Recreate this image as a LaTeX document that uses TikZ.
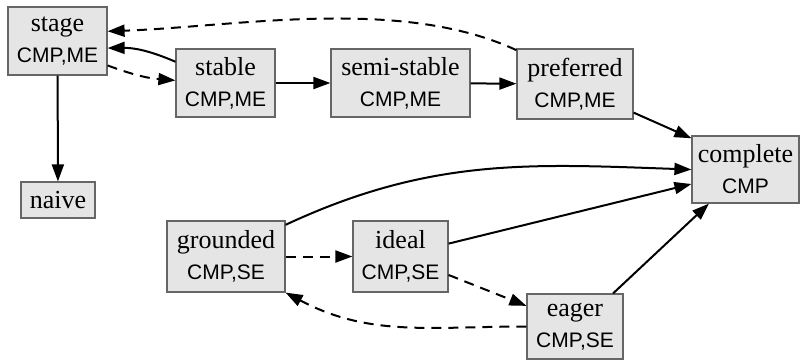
\documentclass[tikz,border=0pt]{standalone}
\usepackage{fontspec}
\setmainfont{Liberation Serif}
\setsansfont{Liberation Sans}
\usepackage{tikz}
\usetikzlibrary{arrows.meta}

\tikzset{
    sem/.style = {draw = black!60, fill = black!10, line width = 0.6pt, inner sep = 0pt,
        align = center, font = \fontsize{13}{15.5}\selectfont},
    rel/.style = {line width = 1pt, -{Triangle[length = 8.5pt, width = 6pt]}},
    weak/.style = {rel, dash pattern = on 5pt off 3.5pt}
}
\newcommand{\props}[1]{{\sffamily\fontsize{10.5}{15.5}\selectfont #1}}

\begin{document}
\begin{tikzpicture}[x = 0.5pt, y = -0.5pt]
                    \useasboundingbox (0, 0) rectangle (800, 361);
                    % semantics
                    \node[sem, minimum width = 49.5pt, minimum height = 34pt] (stage) at (57.5, 41) {stage\\\props{CMP,ME}};
                    \node[sem, minimum width = 49.5pt, minimum height = 34pt] (stable) at (225.5, 83) {stable\\\props{CMP,ME}};
                    \node[sem, minimum width = 69.5pt, minimum height = 34pt] (semistable) at (400.5, 83) {semi-stable\\\props{CMP,ME}};
                    \node[sem, minimum width = 58pt, minimum height = 35pt] (preferred) at (575, 84) {preferred\\\props{CMP,ME}};
                    \node[sem, minimum width = 53.5pt, minimum height = 33.5pt] (complete) at (745.5, 169.5) {complete\\\props{CMP}};
                    \node[sem, minimum width = 37pt, minimum height = 18pt] (naive) at (58, 200) {naive};
                    \node[sem, minimum width = 59pt, minimum height = 35.5pt] (grounded) at (226, 256.5) {grounded\\\props{CMP,SE}};
                    \node[sem, minimum width = 47.5pt, minimum height = 35.5pt] (ideal) at (400.5, 256.5) {ideal\\\props{CMP,SE}};
                    \node[sem, minimum width = 48pt, minimum height = 32.5pt] (eager) at (575, 326.5) {eager\\\props{CMP,SE}};

                    % relations
                    \draw[rel] (stable.157) to[bend right = 12] (stage.-8);
                    \draw[weak] (stage.-26) to[bend right = 8] (stable.177);
                    \draw[weak] (preferred.150) to[out = 155, in = 2, looseness = 0.8] (stage.11);
                    \draw[rel] (stable) -- (semistable);
                    \draw[rel] (semistable) -- (preferred);
                    \draw[rel] (preferred.-26) -- (complete.150);
                    \draw[rel] (stage) -- (naive);
                    \draw[rel] (grounded.28) to[out = 25, in = 178] (complete.180);
                    \draw[rel] (ideal.15) -- (complete.-165);
                    \draw[weak] (grounded) -- (ideal);
                    \draw[weak] (ideal.-21) -- (eager.157);
                    \draw[weak] (eager.west) to[out = 180, in = -28] (grounded.south east);
                    \draw[rel] (eager.41) -- (complete.-137);
                \end{tikzpicture}
\end{document}
